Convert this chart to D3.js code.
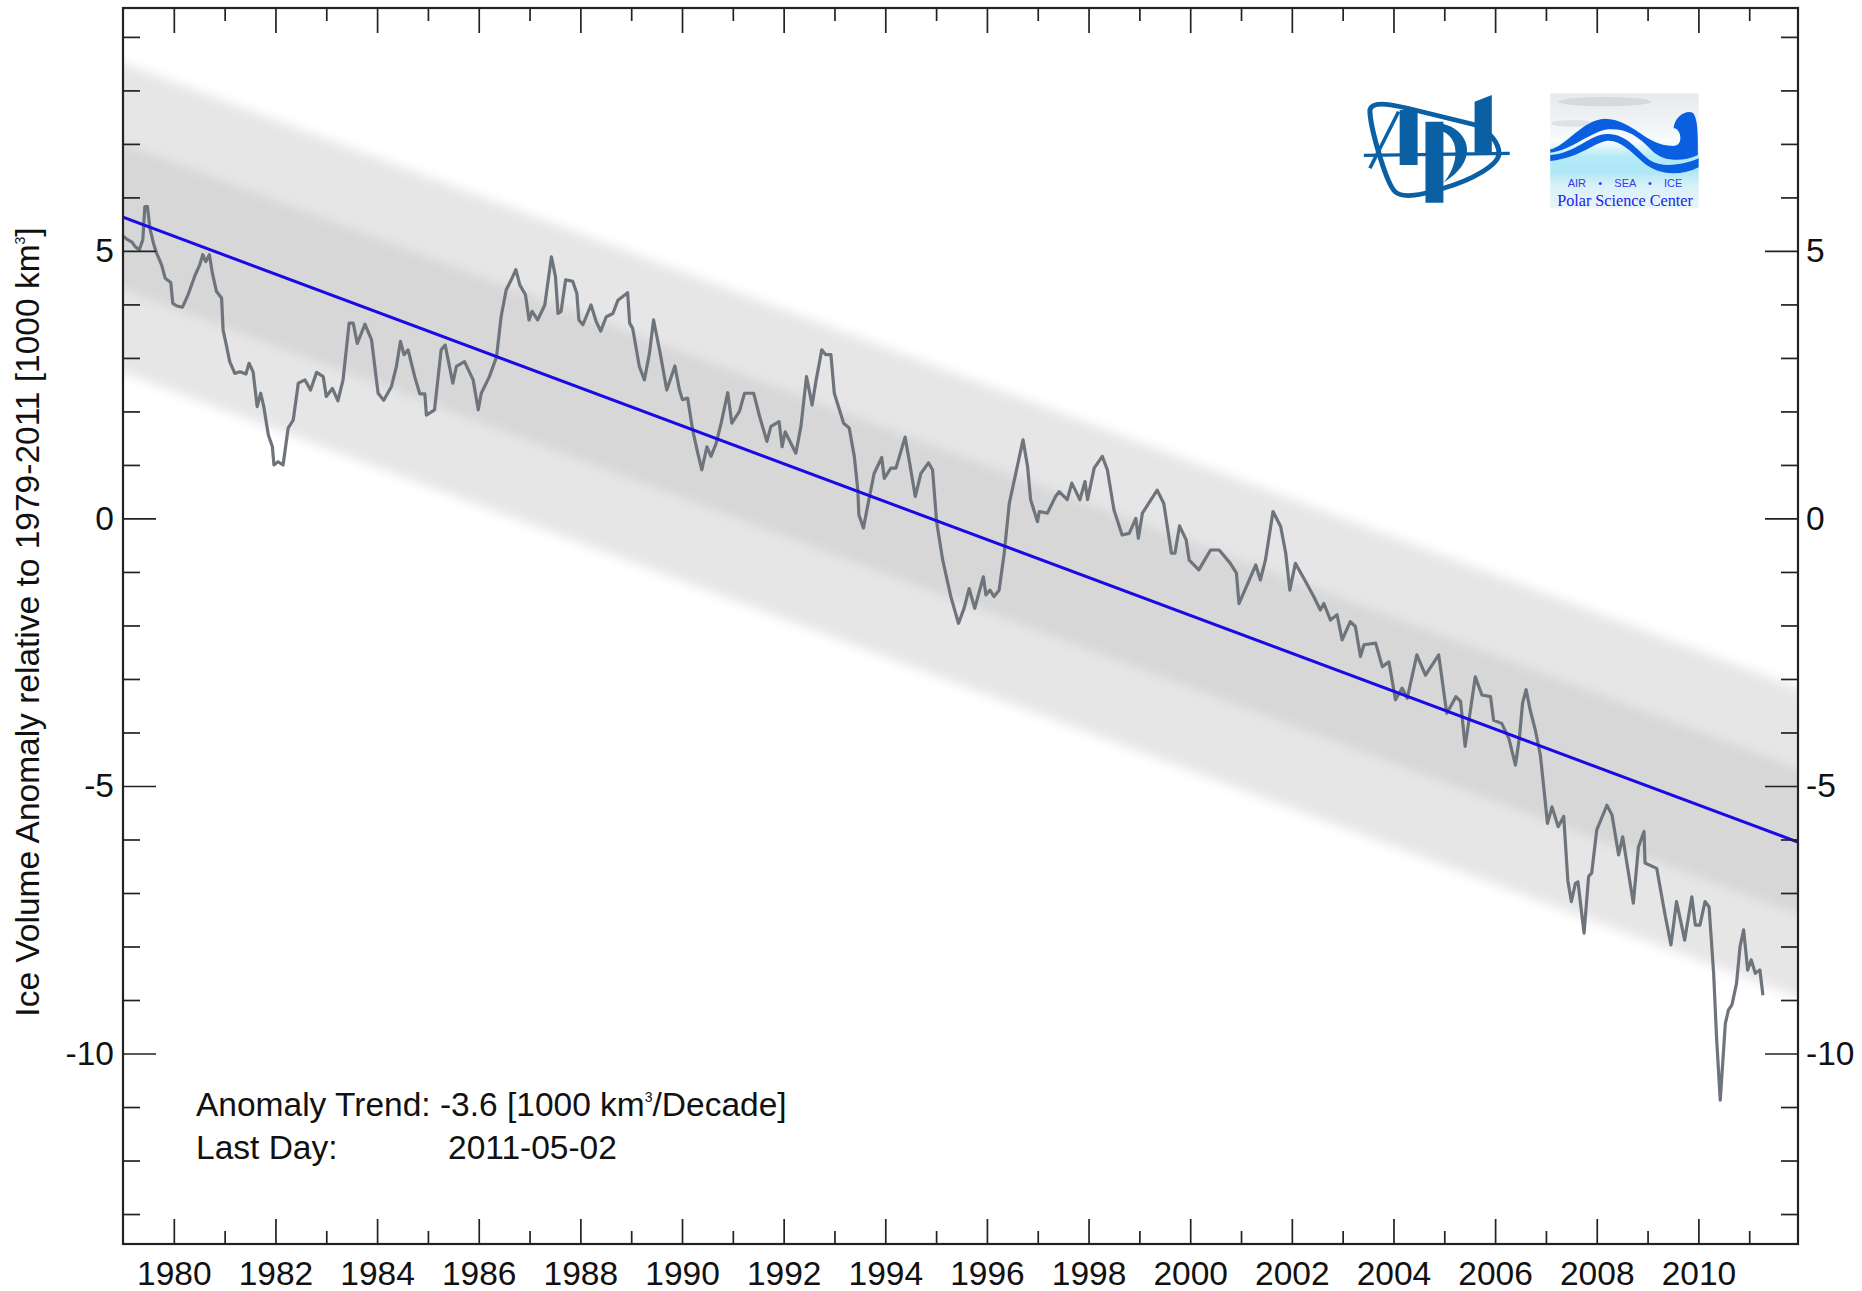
<!DOCTYPE html>
<html><head><meta charset="utf-8">
<style>html,body{margin:0;padding:0;background:#fff}svg{display:block}text{font-family:"Liberation Sans",Arial,sans-serif;fill:#111}</style>
<script src="https://cdn.jsdelivr.net/npm/d3@7/dist/d3.min.js"></script>
</head><body><svg id="c" width="1862" height="1291"></svg>
<script>
const anomalyYears = [
1979.01,1979.09,1979.17,1979.24,1979.32,1979.39,1979.43,1979.48,1979.53,1979.60,1979.66,1979.76,1979.83,1979.94,1979.98,
1980.06,1980.17,1980.28,1980.42,1980.51,1980.57,1980.63,1980.70,1980.76,1980.84,1980.94,1980.97,
1981.04,1981.10,1981.20,1981.30,1981.42,1981.48,1981.56,1981.64,1981.71,1981.77,1981.86,1981.94,1981.97,
1982.05,1982.15,1982.25,1982.35,1982.45,1982.58,1982.69,1982.81,1982.94,
1983.00,1983.12,1983.23,1983.33,1983.45,1983.53,1983.61,1983.76,1983.89,
1984.02,1984.13,1984.28,1984.38,1984.46,1984.53,1984.61,1984.74,1984.84,1984.94,1984.97,
1985.13,1985.26,1985.34,1985.49,1985.56,1985.72,1985.89,1985.99,
1986.05,1986.21,1986.35,1986.44,1986.54,1986.64,1986.73,1986.81,1986.92,1986.99,
1987.05,1987.16,1987.30,1987.43,1987.51,1987.56,1987.62,1987.71,1987.85,1987.93,1987.97,
1988.05,1988.21,1988.31,1988.40,1988.51,1988.64,1988.74,1988.93,1988.97,
1989.03,1989.16,1989.26,1989.36,1989.44,1989.57,1989.70,1989.86,1989.95,
1990.01,1990.11,1990.21,1990.31,1990.39,1990.49,1990.57,1990.67,1990.77,1990.90,1990.98,
1991.13,1991.23,1991.41,1991.52,1991.67,1991.75,1991.91,1991.97,
1992.03,1992.24,1992.34,1992.45,1992.56,1992.64,1992.75,1992.83,1992.93,1992.997,
1993.18,1993.29,1993.39,1993.46,1993.48,1993.57,1993.65,1993.78,1993.93,1993.98,
1994.11,1994.21,1994.39,1994.48,1994.59,1994.70,1994.85,1994.93,
1995.01,1995.13,1995.29,1995.44,1995.55,1995.65,1995.76,1995.93,1995.98,
1996.06,1996.14,1996.24,1996.34,1996.44,1996.54,1996.71,1996.80,1996.86,1996.995,
1997.03,1997.19,1997.35,1997.42,1997.58,1997.67,1997.83,1997.93,1997.98,
1998.11,1998.27,1998.37,1998.50,1998.66,1998.80,1998.93,1998.98,
1999.06,1999.35,1999.48,1999.63,1999.70,1999.79,1999.92,1999.98,
2000.17,2000.40,2000.57,2000.79,2000.91,2000.96,
2001.29,2001.38,2001.48,2001.63,2001.78,2001.88,2001.96,
2002.07,2002.27,2002.43,2002.56,2002.63,2002.76,2002.89,2002.99,
2003.15,2003.25,2003.35,2003.42,2003.65,2003.78,2003.91,
2004.04,2004.17,2004.27,2004.46,2004.63,2004.89,
2005.02,2005.05,2005.23,2005.32,2005.41,2005.61,2005.74,2005.91,2005.97,
2006.13,2006.27,2006.40,2006.48,2006.54,2006.61,2006.69,2006.79,2006.89,2006.97,
2007.03,2007.12,2007.24,2007.35,2007.43,2007.50,2007.58,2007.63,2007.75,2007.84,2007.90,
2008.00,2008.20,2008.30,2008.43,2008.51,2008.72,2008.82,2008.93,2008.95,
2009.18,2009.35,2009.46,2009.57,2009.73,2009.87,2009.94,
2010.03,2010.13,2010.21,2010.30,2010.36,2010.43,2010.53,2010.59,2010.66,2010.75,2010.82,2010.89,2010.97,
2011.04,2011.12,2011.21,2011.27
];
const anomalyValues = [
5.27,5.21,5.17,5.08,5.02,5.21,5.83,5.83,5.42,5.14,4.96,4.74,4.49,4.41,4.02,
3.97,3.95,4.18,4.55,4.74,4.93,4.80,4.93,4.58,4.24,4.12,3.52,
3.21,2.93,2.71,2.74,2.70,2.90,2.74,2.09,2.34,2.09,1.56,1.34,1.00,
1.06,1.00,1.69,1.84,2.53,2.59,2.40,2.73,2.65,
2.28,2.43,2.20,2.59,3.65,3.65,3.27,3.63,3.34,
2.34,2.21,2.46,2.84,3.31,3.06,3.15,2.65,2.33,2.33,1.93,
2.03,3.15,3.24,2.53,2.84,2.93,2.59,2.03,
2.34,2.65,3.02,3.77,4.27,4.46,4.65,4.36,4.18,3.71,
3.87,3.71,3.99,4.89,4.52,3.83,3.87,4.46,4.43,4.21,3.71,
3.62,3.99,3.68,3.50,3.77,3.83,4.08,4.22,3.65,
3.55,2.84,2.59,3.09,3.71,3.09,2.40,2.85,2.40,
2.22,2.25,1.65,1.22,0.91,1.34,1.16,1.40,1.78,2.35,1.78,
2.00,2.34,2.34,1.93,1.44,1.72,1.81,1.34,
1.62,1.22,1.72,2.65,2.12,2.59,3.15,3.06,3.06,2.34,
1.78,1.69,1.16,0.53,0.07,-0.18,0.22,0.84,1.14,0.75,
0.94,0.94,1.52,1.03,0.41,0.84,1.04,0.91,
-0.06,-0.78,-1.46,-1.96,-1.68,-1.31,-1.68,-1.09,-1.43,
-1.34,-1.46,-1.34,-0.65,0.28,0.72,1.47,0.97,0.35,-0.06,
0.13,0.10,0.41,0.50,0.35,0.66,0.35,0.69,0.35,
0.94,1.16,0.91,0.16,-0.31,-0.28,0.00,-0.37,
0.10,0.53,0.28,-0.65,-0.65,-0.14,-0.40,-0.78,
-0.96,-0.59,-0.59,-0.84,-1.02,-1.59,
-0.87,-1.15,-0.78,0.13,-0.15,-0.65,-1.34,
-0.84,-1.18,-1.46,-1.71,-1.59,-1.90,-1.80,-2.27,
-1.93,-2.02,-2.58,-2.36,-2.33,-2.77,-2.68,
-3.39,-3.17,-3.36,-2.55,-2.93,-2.55,
-3.45,-3.64,-3.33,-3.42,-4.26,-2.96,-3.30,-3.33,-3.77,
-3.83,-4.11,-4.61,-4.08,-3.45,-3.20,-3.58,-3.95,-4.42,-5.14,
-5.70,-5.39,-5.76,-5.57,-6.76,-7.16,-6.82,-6.79,-7.75,-6.69,-6.63,
-5.82,-5.36,-5.54,-6.29,-5.95,-7.19,-6.14,-5.85,-6.44,
-6.54,-7.44,-7.97,-7.16,-7.88,-7.07,-7.60,
-7.60,-7.16,-7.26,-8.50,-9.75,-10.87,-9.44,-9.19,-9.09,-8.69,-8.00,-7.69,-8.44,
-8.25,-8.50,-8.44,-8.91
];
const trendYears = [1979, 2011.96];
const trendValues = [5.63, -6.05];
const outerBandOffsets = [2.88, -2.9];
const innerBandOffsets = [1.38, -1.35];
const majorYears = [1980,1982,1984,1986,1988,1990,1992,1994,1996,1998,2000,2002,2004,2006,2008,2010];
const minorYears = [1981,1983,1985,1987,1989,1991,1993,1995,1997,1999,2001,2003,2005,2007,2009,2011];
const majorValues = [5,0,-5,-10];
const minorValues = [9,8,7,6,4,3,2,1,-1,-2,-3,-4,-6,-7,-8,-9,-11,-12,-13];

const L=123,R=1798,T=8,B=1244;
const svg=d3.select("#c");
const x=d3.scaleLinear().domain([1979,2011.96]).range([L,R]);
const y=d3.scaleLinear().domain([9.54,-13.56]).range([T,B]);
const defs=svg.append("defs");
defs.append("clipPath").attr("id","plot").append("rect").attr("x",L).attr("y",T).attr("width",R-L).attr("height",B-T);
const bf=defs.append("filter").attr("id","soft").attr("x","-5%").attr("y","-5%").attr("width","110%").attr("height","110%");
bf.append("feGaussianBlur").attr("stdDeviation",6);

const bands=svg.append("g").attr("clip-path","url(#plot)").append("g").attr("filter","url(#soft)");
const bandArea=off=>d3.area().x(d=>x(d.yr)).y0(d=>y(d.v+off[0])).y1(d=>y(d.v+off[1]));
const trendPts=trendYears.map((yr,i)=>({yr,v:trendValues[i]}));
const slope=(trendValues[1]-trendValues[0])/(trendYears[1]-trendYears[0]);
const ext=[{yr:1978,v:trendValues[0]-slope},...trendPts,{yr:2012.96,v:trendValues[1]+slope}];
bands.append("path").attr("d",bandArea(outerBandOffsets)(ext)).attr("fill","#e6e6e6");
bands.append("path").attr("d",bandArea(innerBandOffsets)(ext)).attr("fill","#d7d7d8");

const plot=svg.append("g").attr("clip-path","url(#plot)");
const series=anomalyYears.map((yr,i)=>({yr,v:anomalyValues[i]}));
plot.append("path").datum(series).attr("fill","none").attr("stroke","#6e747c").attr("stroke-width",3.2).attr("stroke-linejoin","round")
  .attr("d",d3.line().x(d=>x(d.yr)).y(d=>y(d.v)));
plot.append("path").datum(trendPts).attr("fill","none").attr("stroke","#1a0ae6").attr("stroke-width",3)
  .attr("d",d3.line().x(d=>x(d.yr)).y(d=>y(d.v)));

const fs=33.5;
function axis(gen,tx,ty){
  const g=svg.append("g").attr("transform",`translate(${tx},${ty})`).call(gen);
  g.select(".domain").remove();
  g.selectAll("line").attr("stroke","#222").attr("stroke-width",1.7);
  g.selectAll("text").attr("font-size",fs).attr("font-family",'"Liberation Sans",Arial,sans-serif').attr("fill","#111");
  return g;
}
const none=()=>"";
axis(d3.axisBottom(x).tickValues(majorYears).tickSize(-25).tickPadding(17).tickFormat(String),0,B);
axis(d3.axisBottom(x).tickValues(minorYears).tickSize(-13).tickFormat(none),0,B);
axis(d3.axisTop(x).tickValues(majorYears).tickSize(-25).tickFormat(none),0,T);
axis(d3.axisTop(x).tickValues(minorYears).tickSize(-13).tickFormat(none),0,T);
axis(d3.axisLeft(y).tickValues(majorValues).tickSize(-33).tickPadding(9).tickFormat(String),L,0);
axis(d3.axisLeft(y).tickValues(minorValues).tickSize(-17).tickFormat(none),L,0);
axis(d3.axisRight(y).tickValues(majorValues).tickSize(-33).tickPadding(8).tickFormat(String),R,0);
axis(d3.axisRight(y).tickValues(minorValues).tickSize(-17).tickFormat(none),R,0);
svg.append("rect").attr("x",L).attr("y",T).attr("width",R-L).attr("height",B-T).attr("fill","none").attr("stroke","#222").attr("stroke-width",2.2);

// axis title
const title=svg.append("text").attr("transform","translate(39,622) rotate(-90)").attr("text-anchor","middle").attr("font-size",fs);
title.append("tspan").text("Ice Volume Anomaly relative to 1979-2011 [1000 km");
title.append("tspan").attr("font-size",14).attr("dy",-14).text("3");
title.append("tspan").attr("dy",14).text("]");

// annotation
const note=svg.append("g");
const n1=note.append("text").attr("x",196).attr("y",1116).attr("font-size",fs);
n1.append("tspan").text("Anomaly Trend: -3.6 [1000 km");
n1.append("tspan").attr("font-size",14).attr("dy",-14).text("3");
n1.append("tspan").attr("dy",14).text("/Decade]");
note.append("text").attr("x",196).attr("y",1159).attr("font-size",fs).text("Last Day:");
note.append("text").attr("x",448).attr("y",1159).attr("font-size",fs).text("2011-05-02");

// logos
const logo=svg.append("g").attr("transform","translate(1300,60) scale(0.3585,0.3333)");
const apl=logo.append("g");
const aplBlue="#0b5fa3";
apl.append("path").attr("d","M195 150 C200 125 240 130 300 145 L490 195 C530 215 555 250 555 280 C555 315 480 360 400 385 C350 400 290 420 265 395 C240 370 195 200 195 150 Z").attr("fill","none").attr("stroke",aplBlue).attr("stroke-width",14);
apl.append("path").attr("d","M178 286 L585 280").attr("stroke",aplBlue).attr("stroke-width",10);
apl.append("path").attr("d","M275 155 L195 325").attr("stroke",aplBlue).attr("stroke-width",10);
apl.append("path").attr("d","M278 150 H328 V315 H278 Z M350 185 H400 V428 H350 Z M400 192 C470 210 505 300 400 368 C440 320 450 240 400 215 Z M487 125 L535 105 V278 H487 Z").attr("fill",aplBlue);
const psc=logo.append("g");
const g=defs.append("linearGradient").attr("id","pscbg").attr("x1",0).attr("x2",0).attr("y1",0).attr("y2",1);
[[0,"#e6eaee"],[0.22,"#eef2f4"],[0.42,"#f7fcfd"],[0.55,"#b4e9f8"],[0.68,"#aee7f7"],[0.8,"#d8f1f8"],[1,"#e8f4f8"]].forEach(s=>g.append("stop").attr("offset",s[0]).attr("stop-color",s[1]));
psc.append("rect").attr("x",698).attr("y",100).attr("width",414).attr("height",345).attr("fill","url(#pscbg)");
psc.append("ellipse").attr("cx",850).attr("cy",125).attr("rx",130).attr("ry",14).attr("fill","#d5dadd");
psc.append("ellipse").attr("cx",760).attr("cy",190).attr("rx",60).attr("ry",10).attr("fill","#dde2e5");
psc.append("path").attr("d","M698 268 C740 260 790 178 850 176 C930 178 960 255 1040 258 C1075 258 1060 200 1042 205 C1045 170 1075 150 1095 158 C1112 170 1110 250 1110 285 C1060 310 1010 300 985 275 C940 225 910 205 860 208 C810 215 760 270 698 278 Z").attr("fill","#0a5fe0");
psc.append("path").attr("d","M698 285 C770 280 810 220 860 222 C910 222 940 270 975 300 C1010 325 1070 315 1112 295 V322 C1060 350 1000 345 960 310 C920 270 890 240 860 242 C820 245 790 290 698 303 Z").attr("fill","#0a5fe0");
svg.append("text").attr("x",1625).attr("y",187).attr("text-anchor","middle").attr("font-size",11).style("fill","#3a3ae6").attr("xml:space","preserve").text("AIR    •    SEA    •    ICE");
svg.append("text").attr("x",1625).attr("y",206).attr("text-anchor","middle").attr("font-size",16.2).style("font-family",'"Liberation Serif",serif').style("fill","#2222ee").text("Polar Science Center");
</script></body></html>
